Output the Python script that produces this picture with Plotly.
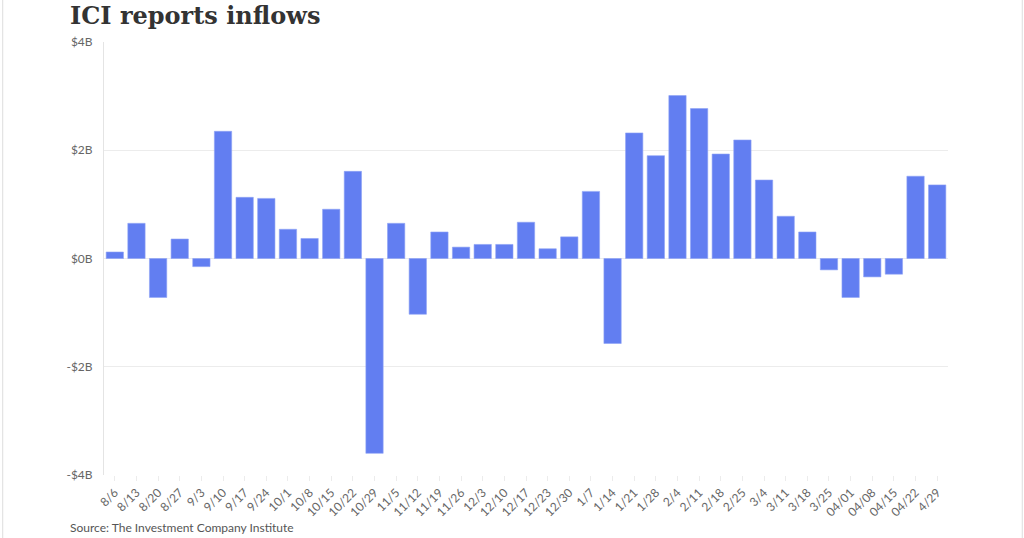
import plotly.graph_objects as go

# weekly flows, $ billions
weeks = ['8/6', '8/13', '8/20', '8/27', '9/3', '9/10', '9/17', '9/24', '10/1', '10/8',
         '10/15', '10/22', '10/29', '11/5', '11/12', '11/19', '11/26', '12/3', '12/10',
         '12/17', '12/23', '12/30', '1/7', '1/14', '1/21', '1/28', '2/4', '2/11', '2/18',
         '2/25', '3/4', '3/11', '3/18', '3/25', '04/01', '04/08', '04/15', '04/22', '4/29']
inflows = [0.12, 0.65, -0.72, 0.36, -0.15, 2.35, 1.13, 1.11, 0.54, 0.37,
           0.91, 1.61, -3.60, 0.65, -1.03, 0.49, 0.21, 0.26, 0.26,
           0.67, 0.18, 0.40, 1.24, -1.57, 2.32, 1.90, 3.01, 2.77, 1.93,
           2.19, 1.45, 0.78, 0.49, -0.21, -0.72, -0.34, -0.29, 1.52, 1.36]

y_ticks = [-4, -2, 0, 2, 4]
y_tick_labels = ['-$4B', '-$2B', '$0B', '$2B', '$4B']

BAR_COLOR = '#627ef1'
GRID = '#ececec'

fig = go.Figure()
fig.add_trace(go.Bar(
    x=weeks, y=inflows,
    marker=dict(color=BAR_COLOR, line=dict(color='#8ea2f5', width=0.6)),
    hovertemplate='%{x}: $%{y:.2f}B<extra></extra>',
))

fig.update_layout(
    width=1024, height=538,
    margin=dict(l=104, r=76, t=42, b=63),
    paper_bgcolor='white', plot_bgcolor='white',
    font=dict(family='Lato', color='#666666', size=12),
    bargap=0.2,
    showlegend=False,
    annotations=[
        dict(text='<b>ICI reports inflows</b>', xref='paper', yref='paper',
             x=-0.0427, y=1.1, xanchor='left', yanchor='top', showarrow=False,
             font=dict(family='DejaVu Serif', size=24, color='#333333')),
        dict(text='Source: The Investment Company Institute', xref='paper', yref='paper',
             x=-0.0427, y=-0.1432, xanchor='left', yanchor='bottom', showarrow=False,
             font=dict(family='Lato', size=12, color='#555555')),
    ],
    shapes=[
        dict(type='line', xref='paper', yref='paper', x0=-0.120, x1=-0.120, y0=-0.2, y1=1.2,
             line=dict(color='#dddddd', width=1)),
        dict(type='line', xref='paper', yref='paper', x0=1.088, x1=1.088, y0=-0.2, y1=1.2,
             line=dict(color='#dddddd', width=1)),
    ],
)

fig.update_xaxes(
    tickangle=-45, ticks='outside', ticklen=5, tickcolor=GRID,
    tickfont=dict(size=12, color='#666666'),
    showgrid=False, showline=False, zeroline=False,
)
fig.update_yaxes(
    range=[-4, 4], tickvals=y_ticks, ticktext=y_tick_labels,
    showgrid=True, gridcolor=GRID, zeroline=False,
    showline=True, linecolor='#e4e4e4', ticks='', ticklabelstandoff=8,
    tickfont=dict(size=12, color='#666666'),
)

# drop the page's default body margin so the figure sits at the window's corner
fig.write_html('out.html', config={'displayModeBar': False},
               post_script="document.body.style.margin='0';")
